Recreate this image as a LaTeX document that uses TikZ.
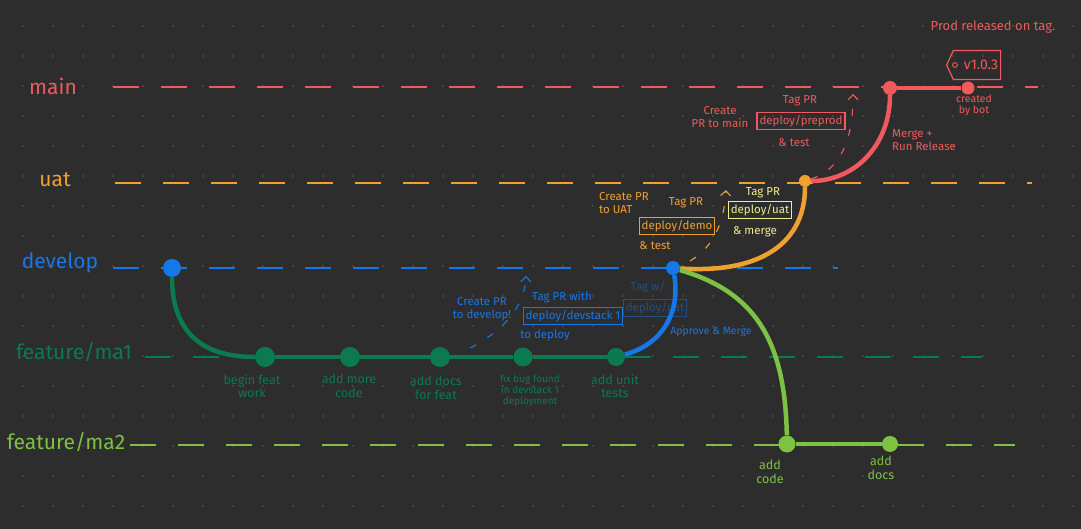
\documentclass[tikz,border=0pt]{standalone}
\usepackage{fontspec}
\setmainfont{Fira Sans}
\usepackage{xcolor}
\usepackage{tikz}
\usetikzlibrary{arrows.meta,shapes.symbols}
\definecolor{bgc}{HTML}{2D2D2D}
\definecolor{gridc}{HTML}{5A5A5A}
\definecolor{mainc}{HTML}{F05A5C}
\definecolor{uatc}{HTML}{F0A030}
\definecolor{devc}{HTML}{1677E8}
\definecolor{maone}{HTML}{0B7A4E}
\definecolor{matwo}{HTML}{7DC242}
\definecolor{tagc}{HTML}{F2EE8A}

\begin{document}
\begin{tikzpicture}[x=1pt,y=-1pt,every node/.style={font=\fontsize{11.5}{13}\selectfont,align=center,inner sep=1pt},lane/.style={font=\fontsize{21}{22}\selectfont},laneline/.style={line width=1.4pt,dash pattern=on 26pt off 22pt},branch/.style={line width=4.5pt},commit/.style={circle,fill,inner sep=0pt,minimum size=#1},commit/.default=18pt,tagbox/.style={draw,line width=1.1pt,inner sep=2.5pt},hint/.style={line width=1.1pt,dash pattern=on 7pt off 13pt,-{Straight Barb[length=5pt,width=10pt]}}]
\fill[bgc] (0,0) rectangle (1081,529);
\useasboundingbox (0,0) rectangle (1081,529);
\foreach \gx in {23,53,...,1081} \foreach \gy in {26,56,...,529} \fill[gridc] (\gx,\gy) circle (0.9);
\node[lane,text=mainc] (lmain) at (53,86) {main};
\node[lane,text=uatc] (luat) at (55,180) {uat};
\node[lane,text=devc] (ldev) at (60,263) {develop};
\node[lane,text=maone] (lmaone) at (74,352) {feature/ma1};
\node[lane,text=matwo] (lmatwo) at (66,442) {feature/ma2};
\draw[laneline,mainc] (113,87) -- (1038,87);
\draw[laneline,uatc] (115,183) -- (1032,183);
\draw[laneline,devc] (113,268) -- (838,268);
\draw[laneline,maone] (145,357) -- (982,357);
\draw[laneline,matwo] (130,445) -- (1015,445);
\node[commit,devc] (d0) at (172,268) {};
\node[commit=20pt,maone] (a1) at (265,357) {};
\node[commit=20pt,maone] (a2) at (350,357) {};
\node[commit=20pt,maone] (a3) at (440,357) {};
\node[commit=19pt,maone] (a4) at (523,357) {};
\node[commit=18pt,maone] (a5) at (616,357) {};
\node[commit=14pt,devc] (d1) at (673,268) {};
\node[commit=12pt,uatc] (u1) at (805,181) {};
\node[commit=14pt,mainc] (m1) at (890,88) {};
\node[commit=13pt,mainc] (m2) at (968,88) {};
\node[commit=17pt,matwo] (b1) at (787,444) {};
\node[commit=16pt,matwo] (b2) at (890,444) {};
\draw[branch,maone] (d0) .. controls (172,335) and (205,357) .. (a1);
\draw[branch,maone] (a1) -- (a2) -- (a3) -- (a4) -- (a5);
\draw[branch,devc] (a5) .. controls (660,345) and (681,315) .. (d1);
\draw[branch,uatc] (d1) .. controls (765,274) and (805,240) .. (u1);
\draw[branch,mainc] (u1) .. controls (855,181) and (890,145) .. (m1);
\draw[branch,mainc] (m1) -- (m2);
\draw[branch,matwo] (d1) .. controls (755,292) and (785,340) .. (b1);
\draw[branch,matwo] (b1) -- (b2);
\node[text=maone,font=\fontsize{12.5}{13.5}\selectfont] (ta1) at (252,386) {begin feat\\work};
\node[text=maone,font=\fontsize{12.5}{13.5}\selectfont] (ta2) at (349,386) {add more\\code};
\node[text=maone,font=\fontsize{12.5}{13.5}\selectfont] (ta3) at (436,388) {add docs\\for feat};
\node[text=maone,font=\fontsize{10}{11}\selectfont] (ta4) at (530,391) {fix bug found\\in devstack 1\\deployment};
\node[text=maone,font=\fontsize{12.5}{13.5}\selectfont] (ta5) at (615,386) {add unit\\tests};
\node[text=devc] (cpdev) at (482,309) {Create PR\\to develop!};
\coordinate (hd0) at (470,348);
\coordinate (hd1) at (526,276);
\draw[hint,devc] (hd0) .. controls (505,330) and (525,305) .. (hd1);
\node[text=devc] (tpw) at (562,297) {Tag PR with};
\node[tagbox,devc] (tdev) at (573,316) {deploy/devstack 1};
\node[text=devc] (tdep) at (545,335) {to deploy};
\node[text=devc,opacity=.45] (tw) at (648,287) {Tag w/};
\node[tagbox,devc,opacity=.45] (tuatold) at (655,308) {deploy/uat};
\node[text=devc,font=\fontsize{10.5}{12}\selectfont] (apm) at (711,332) {Approve \& Merge};
\node[text=uatc,align=left] (cpuat) at (624,203) {Create PR\\to UAT};
\node[text=uatc] (tpo) at (686,203) {Tag PR};
\node[tagbox,uatc] (tdemo) at (677,226) {deploy/demo};
\node[text=uatc] (tto) at (655,246) {\& test};
\coordinate (ho0) at (690,261);
\coordinate (ho1) at (726,190);
\draw[hint,uatc] (ho0) .. controls (712,248) and (724,225) .. (ho1);
\node[text=tagc] (tpy) at (763,193) {Tag PR};
\node[tagbox,tagc] (tuat) at (760,210) {deploy/uat};
\node[text=tagc] (tmy) at (755,232) {\& merge};
\node[text=mainc] (cpmain) at (720,117) {Create\\PR to main};
\node[text=mainc] (tpr) at (800,101) {Tag PR};
\node[tagbox,mainc] (tpre) at (801,121) {deploy/preprod};
\node[text=mainc] (ttr) at (794,143) {\& test};
\coordinate (hm0) at (811,179);
\coordinate (hm1) at (853,94);
\draw[hint,mainc] (hm0) .. controls (838,170) and (853,145) .. (hm1);
\node[text=mainc,align=left] (mrr) at (924,140) {Merge +\\Run Release};
\node[draw=mainc,text=mainc,line width=1.2pt,signal,signal to=west,signal pointer angle=130,font=\fontsize{14}{15}\selectfont,inner sep=0pt,minimum height=29pt,minimum width=54pt] (vtag) at (977,65) {\hspace{8pt}v1.0.3};
\draw[mainc,line width=0.9pt] ([xshift=9pt]vtag.west) circle (2.4);
\node[text=mainc,font=\fontsize{10.5}{11.5}\selectfont] (cbb) at (974,105) {created\\by bot};
\node[text=mainc,font=\fontsize{13}{14}\selectfont] (prt) at (993,27) {Prod released on tag.};
\node[text=matwo,font=\fontsize{12.5}{13.5}\selectfont] (tb1) at (770,472) {add\\code};
\node[text=matwo,font=\fontsize{12.5}{13.5}\selectfont] (tb2) at (881,468) {add\\docs};
\end{tikzpicture}
\end{document}
